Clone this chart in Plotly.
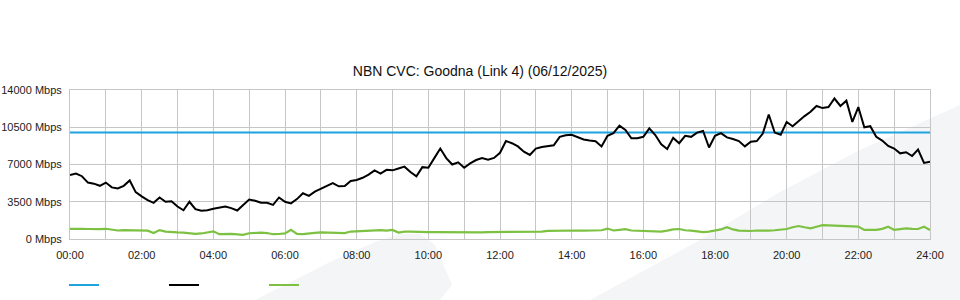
import plotly.graph_objects as go

# ---------------- data ----------------
title_text = "NBN CVC: Goodna (Link 4) (06/12/2025)"
# sample times in hours (10-minute steps, 00:00 .. 24:00)
times = [i / 6 for i in range(145)]

capacity_value = 10000  # Mbps (blue line)

inbound = [  # black series, Mbps
    6010, 6150, 5900, 5300, 5200, 5000,
    5300, 4850, 4750, 5000, 5500, 4400,
    4000, 3650, 3400, 3900, 3500, 3550,
    3050, 2700, 3500, 2800, 2650, 2700,
    2850, 2950, 3050, 2900, 2680, 3200,
    3700, 3600, 3400, 3400, 3200, 3900,
    3500, 3350, 3750, 4300, 4050, 4450,
    4700, 5000, 5250, 4950, 4980, 5450,
    5550, 5750, 6050, 6450, 6150, 6500,
    6450, 6620, 6800, 6300, 5900, 6750,
    6700, 7600, 8500, 7600, 7000, 7200,
    6700, 7100, 7420, 7600, 7450, 7620,
    8100, 9200, 9000, 8700, 8200, 7900,
    8500, 8650, 8700, 8800, 9600, 9750,
    9800, 9600, 9350, 9250, 9180, 8700,
    9700, 9950, 10650, 10250, 9460, 9460,
    9600, 10400, 9770, 8900, 8450, 9500,
    9000, 9700, 9600, 10000, 10150, 8600,
    9700, 9950, 9550, 9400, 9200, 8700,
    9140, 9200, 9900, 11700, 10000, 9800,
    11000, 10600, 11100, 11550, 11950, 12500,
    12300, 12400, 13200, 12500, 13000, 11000,
    12400, 10500, 10600, 9600, 9250, 8750,
    8500, 8050, 8150, 7800, 8400, 7150,
    7250,
]

outbound = [  # green series, Mbps
    950, 920, 960, 940, 900, 930,
    960, 880, 800, 840, 820, 760,
    800, 780, 560, 840, 700, 640,
    620, 600, 560, 480, 520, 600,
    720, 450, 500, 480, 440, 390,
    540, 580, 600, 560, 450, 470,
    520, 860, 480, 460, 540, 580,
    620, 600, 560, 540, 560, 700,
    740, 760, 800, 820, 840, 780,
    850, 600, 700, 700, 660, 640,
    640, 640, 630, 630, 640, 630,
    630, 640, 630, 630, 640, 640,
    640, 640, 650, 640, 650, 660,
    680, 700, 760, 780, 800, 820,
    850, 800, 780, 800, 820, 820,
    980, 800, 860, 930, 800, 780,
    780, 760, 720, 700, 780, 900,
    940, 820, 780, 700, 640, 700,
    780, 900, 1100, 900, 780, 760,
    750, 800, 780, 780, 820, 880,
    940, 1100, 1220, 1100, 1000, 1150,
    1300, 1280, 1250, 1230, 1220, 1200,
    1160, 850, 840, 850, 950, 1150,
    850, 900, 1000, 960, 940, 1150,
    850,
]

x_tickvals = list(range(0, 25, 2))
x_ticktext = ["00:00", "02:00", "04:00", "06:00", "08:00", "10:00", "12:00",
              "14:00", "16:00", "18:00", "20:00", "22:00", "24:00"]
y_tickvals = [0, 3500, 7000, 10500, 14000]
y_ticktext = ["0 Mbps", "3500 Mbps", "7000 Mbps", "10500 Mbps", "14000 Mbps"]

# ---------------- styling ----------------
W, H = 960, 300
ML, MR, MT, MB = 70, 30, 90, 61
PW, PH = W - ML - MR, H - MT - MB
BLUE = "#1ea3df"
BLACK = "#000000"
GREEN = "#7cc142"
GRID = "#c6c6c6"
FONT = "Liberation Sans, Arial, sans-serif"


def fx(px):
    return (px - ML) / PW


def fy(py):
    return (H - MB - py) / PH


def path(points):
    s = "M " + " L ".join(f"{fx(a):.4f},{fy(b):.4f}" for a, b in points) + " Z"
    return s


fig = go.Figure()
fig.add_trace(go.Scatter(x=[times[0], times[-1]], y=[capacity_value, capacity_value],
                         mode="lines", name="", line=dict(color=BLUE, width=2)))
fig.add_trace(go.Scatter(x=times, y=inbound, mode="lines", name="",
                         line=dict(color=BLACK, width=2)))
fig.add_trace(go.Scatter(x=times, y=outbound, mode="lines", name="",
                         line=dict(color=GREEN, width=2.2)))

bg_shapes = [
    dict(type="path", xref="paper", yref="paper", layer="below", line_width=0,
         fillcolor="#f4f5f7",
         path=path([(255, 300), (330, 262), (375, 242), (400, 234), (420, 234),
                    (435, 245), (452, 285), (440, 300)])),
    dict(type="path", xref="paper", yref="paper", layer="below", line_width=0,
         fillcolor="#f4f5f7",
         path=path([(590, 300), (700, 240), (780, 192), (860, 150), (960, 105),
                    (960, 300)])),
]

fig.update_layout(
    width=W, height=H,
    margin=dict(l=ML, r=MR, t=MT, b=MB, autoexpand=False),
    paper_bgcolor="white",
    plot_bgcolor="rgba(0,0,0,0)",
    font=dict(family=FONT, size=11, color="#222222"),
    title=dict(text=title_text, x=0.5, xanchor="center", xref="container",
               y=1 - 71 / H, yanchor="middle", yref="container",
               font=dict(family=FONT, size=14, color="#111111")),
    showlegend=True,
    legend=dict(orientation="h", xref="container", yref="container",
                x=(70 - 6) / W, xanchor="left", y=1 - 285 / H, yanchor="middle",
                itemwidth=30, entrywidth=55, entrywidthmode="pixels",
                bgcolor="rgba(0,0,0,0)", font=dict(size=11)),
    shapes=bg_shapes,
    hovermode=False,
)
fig.update_xaxes(range=[0, 24], tickvals=x_tickvals, ticktext=x_ticktext,
                 showgrid=True, gridcolor=GRID, gridwidth=1,
                 minor=dict(dtick=1, showgrid=True, gridcolor=GRID, gridwidth=1),
                 showline=True, linecolor=GRID, mirror=True, zeroline=False,
                 ticks="", ticklabelstandoff=6, fixedrange=True, automargin=False)
fig.update_yaxes(range=[0, 14000], tickvals=y_tickvals, ticktext=y_ticktext,
                 showgrid=True, gridcolor=GRID, gridwidth=1,
                 showline=True, linecolor=GRID, mirror=True, zeroline=False,
                 ticks="", ticklabelstandoff=5, fixedrange=True, automargin=False)

fig.write_html("out.html", config={"displayModeBar": False})
